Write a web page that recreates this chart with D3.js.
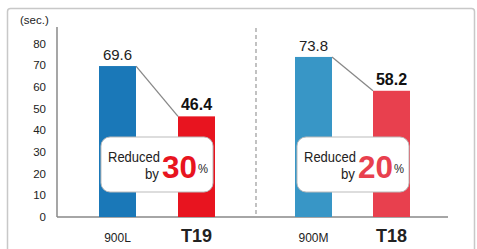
<!DOCTYPE html>
<html>
<head>
<meta charset="utf-8">
<script src="https://cdn.jsdelivr.net/npm/d3@7"></script>
<style>
  body { margin: 0; background: #fff; }
  text { font-family: "Liberation Sans", Arial, sans-serif; }
</style>
</head>
<body>
<div id="chart"></div>
<script>
var categories = ["900L", "T19", "900M", "T18"];
var values = [69.6, 46.4, 73.8, 58.2];
var barColors = ["#1a78b8", "#e8141f", "#3896c6", "#e8404e"];
var yTicks = [0, 10, 20, 30, 40, 50, 60, 70, 80];
var reductions = [30, 20];

var width = 477, height = 249;

var svg = d3.select("#chart")
    .append("svg")
    .attr("width", width)
    .attr("height", height);

// outer frame
svg.append("rect")
    .attr("x", 7.5).attr("y", 8.5)
    .attr("width", 467).attr("height", 250)
    .attr("rx", 3)
    .attr("fill", "none")
    .attr("stroke", "#c8c8c8")
    .attr("stroke-width", 1.5);

var yScale = d3.scaleLinear().domain([0, 80]).range([217, 43.5]);
var xPos = [99, 178, 295, 373];
var barW = 37;

// y axis
svg.append("line")
    .attr("x1", 57).attr("x2", 57)
    .attr("y1", 27).attr("y2", yScale(0))
    .attr("stroke", "#777").attr("stroke-width", 1.3);

svg.append("line")
    .attr("x1", 57).attr("x2", 448)
    .attr("y1", yScale(0)).attr("y2", yScale(0))
    .attr("stroke", "#888").attr("stroke-width", 1.5);

svg.selectAll(".ytick")
    .data(yTicks)
    .enter().append("text")
    .attr("class", "ytick")
    .attr("x", 46)
    .attr("y", function(d) { return yScale(d) + 4; })
    .attr("text-anchor", "end")
    .attr("font-size", 11.5)
    .attr("fill", "#222")
    .text(function(d) { return d; });

svg.append("text")
    .attr("x", 20).attr("y", 24)
    .attr("font-size", 11.5)
    .attr("fill", "#222")
    .text("(sec.)");

// dashed separator
svg.append("line")
    .attr("x1", 256).attr("x2", 256)
    .attr("y1", 28).attr("y2", yScale(0))
    .attr("stroke", "#999")
    .attr("stroke-width", 1.2)
    .attr("stroke-dasharray", "4,3");

// bars
svg.selectAll(".bar")
    .data(values)
    .enter().append("rect")
    .attr("class", "bar")
    .attr("x", function(d, i) { return xPos[i]; })
    .attr("y", function(d) { return yScale(d); })
    .attr("width", barW)
    .attr("height", function(d) { return yScale(0) - yScale(d); })
    .attr("fill", function(d, i) { return barColors[i]; });

// connecting lines
[0, 2].forEach(function(i) {
    svg.append("line")
        .attr("x1", xPos[i] + barW).attr("y1", yScale(values[i]))
        .attr("x2", xPos[i + 1]).attr("y2", yScale(values[i + 1]))
        .attr("stroke", "#888").attr("stroke-width", 1.3);
});

// value labels
svg.selectAll(".val")
    .data(values)
    .enter().append("text")
    .attr("class", "val")
    .attr("x", function(d, i) { return xPos[i] + barW / 2; })
    .attr("y", function(d) { return yScale(d) - 6; })
    .attr("text-anchor", "middle")
    .attr("font-size", function(d, i) { return i % 2 ? 16 : 15; })
    .attr("font-weight", function(d, i) { return i % 2 ? "bold" : "normal"; })
    .attr("fill", function(d, i) { return i % 2 ? "#111" : "#222"; })
    .text(function(d) { return d.toFixed(1); });

// category labels
svg.selectAll(".cat")
    .data(categories)
    .enter().append("text")
    .attr("class", "cat")
    .attr("x", function(d, i) { return xPos[i] + barW / 2; })
    .attr("y", 242)
    .attr("text-anchor", "middle")
    .attr("font-size", function(d, i) { return i % 2 ? 18 : 12; })
    .attr("font-weight", function(d, i) { return i % 2 ? "bold" : "normal"; })
    .attr("fill", "#222")
    .text(function(d) { return d; });

// callouts
var boxX = [101, 297];
reductions.forEach(function(r, k) {
    var bx = boxX[k];
    var g = svg.append("g").attr("transform", "translate(" + bx + ",137)");
    g.append("rect")
        .attr("width", 112).attr("height", 55)
        .attr("rx", 9)
        .attr("fill", "#fff")
        .attr("stroke", "#bbb")
        .attr("stroke-width", 1);
    g.append("text")
        .attr("x", 7).attr("y", 25)
        .attr("font-size", 14)
        .attr("textLength", 52)
        .attr("lengthAdjust", "spacingAndGlyphs")
        .attr("fill", "#222")
        .text("Reduced");
    g.append("text")
        .attr("x", 44).attr("y", 42)
        .attr("font-size", 14)
        .attr("textLength", 14)
        .attr("lengthAdjust", "spacingAndGlyphs")
        .attr("fill", "#222")
        .text("by");
    g.append("text")
        .attr("x", 61).attr("y", 41)
        .attr("font-size", 31)
        .attr("font-weight", "bold")
        .attr("textLength", 35)
        .attr("lengthAdjust", "spacingAndGlyphs")
        .attr("fill", barColors[k * 2 + 1])
        .text(r);
    g.append("text")
        .attr("x", 97).attr("y", 36)
        .attr("font-size", 13)
        .attr("textLength", 10)
        .attr("lengthAdjust", "spacingAndGlyphs")
        .attr("fill", "#222")
        .text("%");
});
</script>
</body>
</html>
